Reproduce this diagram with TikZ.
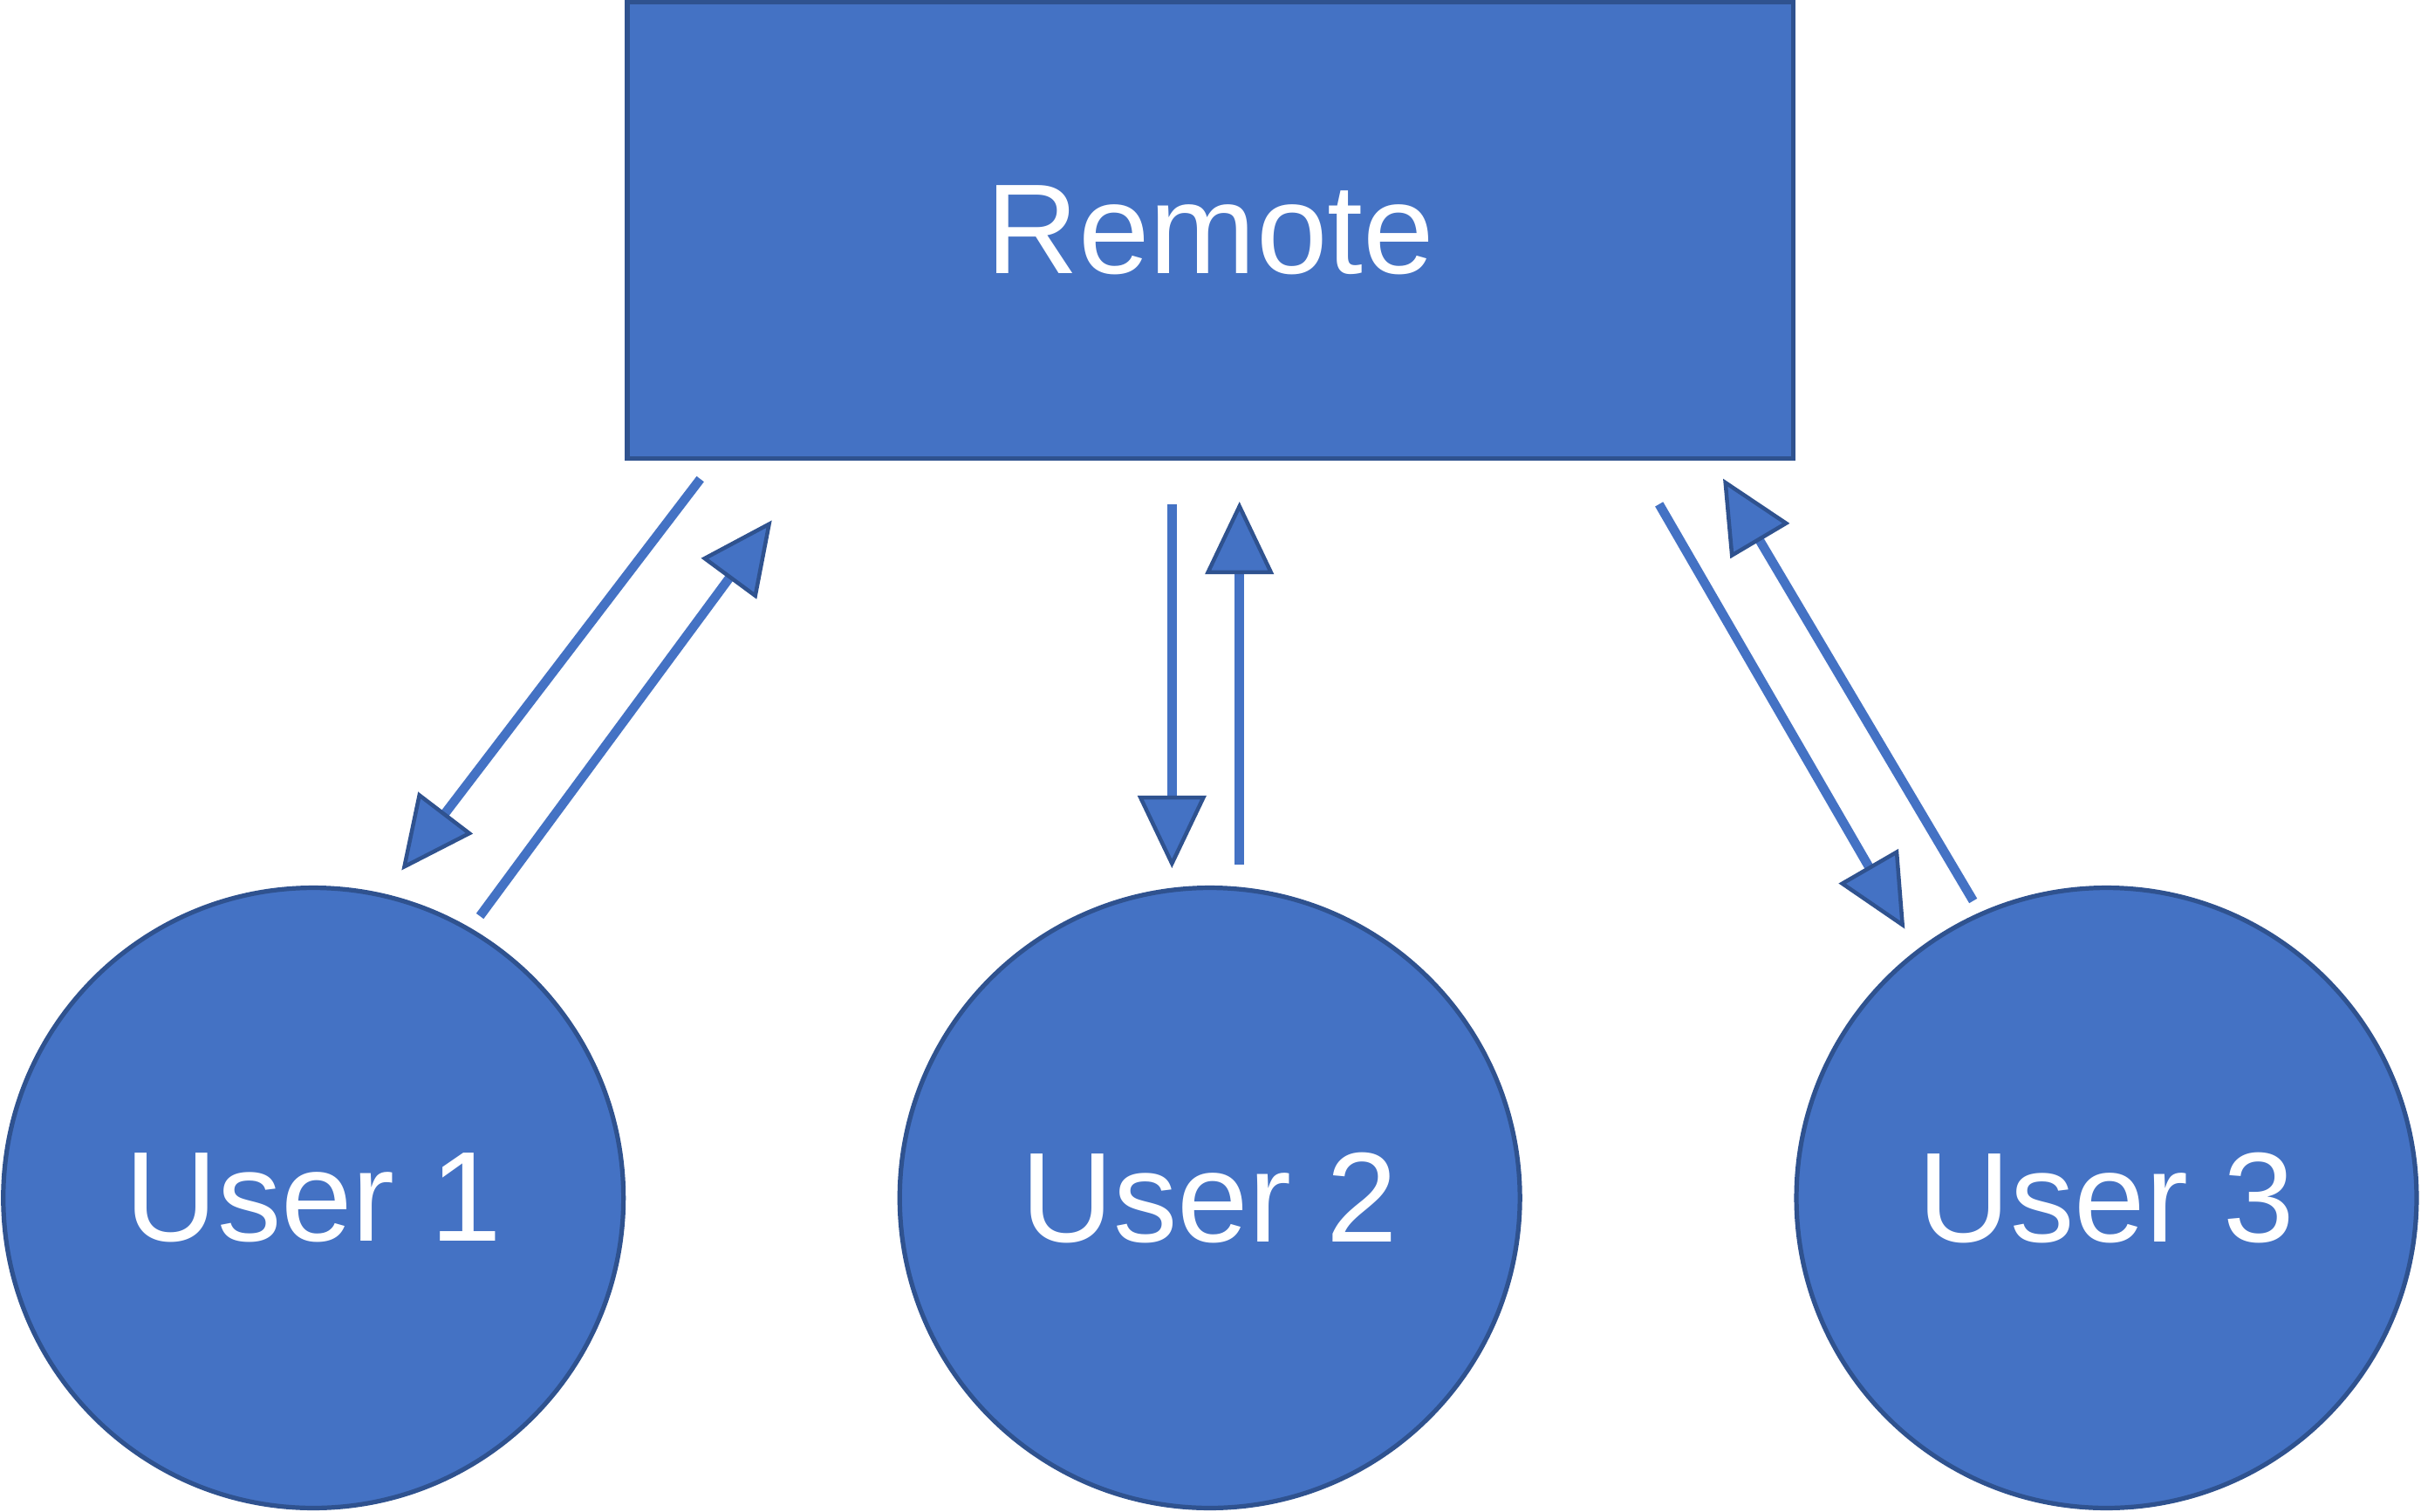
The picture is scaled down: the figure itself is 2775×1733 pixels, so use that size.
\documentclass[tikz,border=0pt]{standalone}
\usepackage{fontspec}
\setmainfont{Liberation Sans}
\usetikzlibrary{arrows.meta}
\definecolor{cfill}{HTML}{4472C4}
\definecolor{cedge}{HTML}{2F528F}
\begin{document}
\begin{tikzpicture}[x=0.01cm,y=-0.01cm,
  shapebase/.style={fill=cfill,draw=cedge,line width=1.48pt,text=white,
    font=\fontsize{41.7pt}{50pt}\selectfont,inner sep=0pt},
  box/.style={shapebase,rectangle,minimum width=13.36cm,minimum height=5.227cm},
  usercircle/.style={shapebase,circle,minimum size=7.105cm},
  flow/.style={draw=cfill,line width=3pt,
    -{Triangle[length=0.83cm,width=0.78cm,line width=1.28pt,fill=cfill,color=cedge]}}]
\useasboundingbox (0,0) rectangle (2775,1733);
\node[box] (remote) at (1387.3,263.9) {Remote};
\node[usercircle] (u1) at (359.2,1373) {User 1};
\node[usercircle] (u2) at (1386.7,1373) {User 2};
\node[usercircle] (u3) at (2414.5,1373) {User 3};
% free ends of the connectors
\coordinate (a1) at (802.7,549);   \coordinate (a2) at (460.3,997.5);
\coordinate (b1) at (550.1,1050);  \coordinate (b2) at (884.7,596.4);
\coordinate (c1) at (1343.3,578.3);\coordinate (c2) at (1343.3,995);
\coordinate (d1) at (1420.7,990.7);\coordinate (d2) at (1420.7,575);
\coordinate (e1) at (1901.7,577.9);\coordinate (e2) at (2183.3,1064.6);
\coordinate (f1) at (2261.7,1032.5);\coordinate (f2) at (1975,548.6);
\draw[flow] (a1) -- (a2);
\draw[flow] (b1) -- (b2);
\draw[flow] (c1) -- (c2);
\draw[flow] (d1) -- (d2);
\draw[flow] (e1) -- (e2);
\draw[flow] (f1) -- (f2);
\end{tikzpicture}
\end{document}
